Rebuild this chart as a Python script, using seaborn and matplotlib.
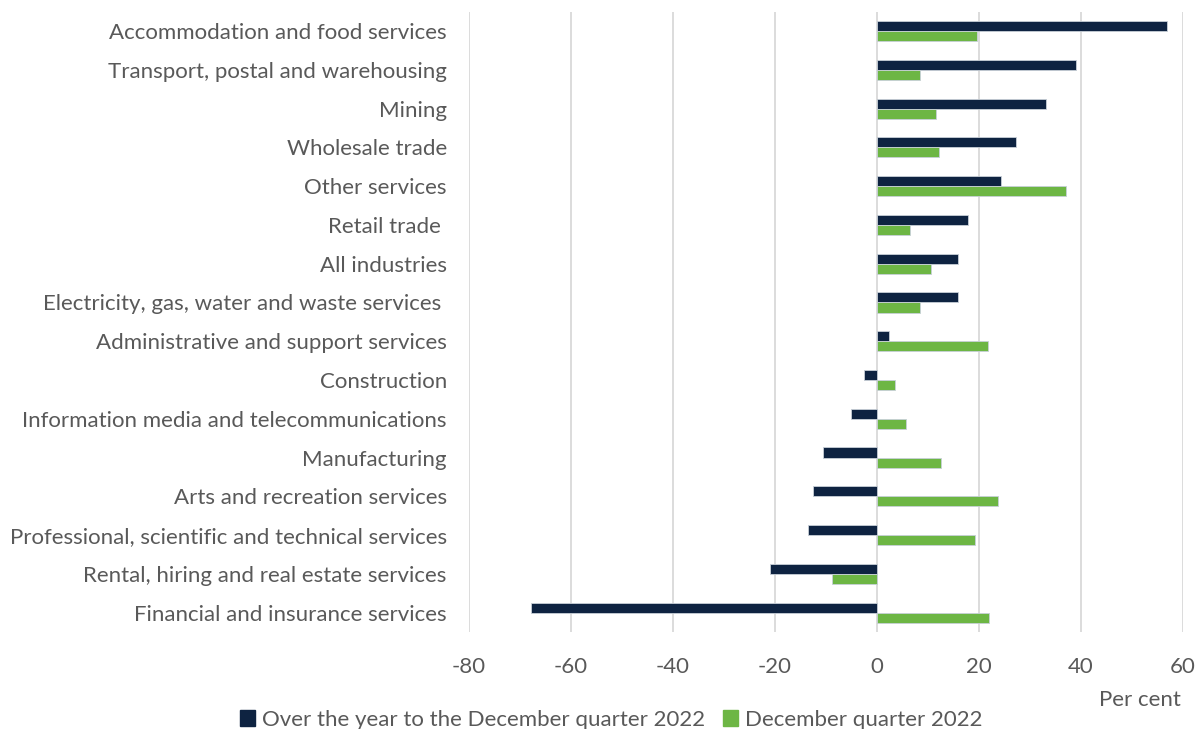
import matplotlib
matplotlib.use("Agg")
import matplotlib.pyplot as plt
import seaborn as sns
import pandas as pd
from matplotlib.patches import Patch

categories = [
    "Accommodation and food services",
    "Transport, postal and warehousing",
    "Mining",
    "Wholesale trade",
    "Other services",
    "Retail trade ",
    "All industries",
    "Electricity, gas, water and waste services ",
    "Administrative and support services",
    "Construction",
    "Information media and telecommunications",
    "Manufacturing",
    "Arts and recreation services",
    "Professional, scientific and technical services",
    "Rental, hiring and real estate services",
    "Financial and insurance services",
]
over_year = [56.9, 39.0, 33.1, 27.3, 24.4, 17.9, 15.9, 15.8, 2.4, -2.5, -5.1, -10.5, -12.6, -13.5, -21.0, -67.8]
dec_quarter = [19.7, 8.4, 11.6, 12.2, 37.1, 6.5, 10.6, 8.4, 21.8, 3.5, 5.6, 12.5, 23.8, 19.3, -8.8, 22.0]
series_names = ["Over the year to the December quarter 2022", "December quarter 2022"]
x_ticks = [-80, -60, -40, -20, 0, 20, 40, 60]

colors = ["#0E2341", "#6DB644"]

sns.set_theme(style="white")
plt.rcParams["font.family"] = ["Lato", "DejaVu Sans"]

df = pd.DataFrame({
    "industry": categories * 2,
    "value": over_year + dec_quarter,
    "series": [series_names[0]] * len(categories) + [series_names[1]] * len(categories),
})

fig = plt.figure(figsize=(11.98, 7.29), dpi=100)
ax = fig.add_axes([0.3915, 0.133, 0.596, 0.851])
sns.barplot(data=df, y="industry", x="value", hue="series", order=categories,
            hue_order=series_names, palette=colors, orient="h", width=0.52,
            dodge=True, ax=ax, legend=False, edgecolor="#c8d0d8", linewidth=0.6,
            saturation=1)

ax.set_xlim(-80, 60)
ax.set_xticks(x_ticks)
ax.set_xticklabels([str(t) for t in x_ticks])
ax.set_xlabel("")
ax.set_ylabel("")
for s in ax.spines.values():
    s.set_visible(False)
ax.grid(axis="x", color="#d9d9d9", linewidth=1.3)
ax.set_axisbelow(True)
ax.tick_params(axis="x", colors="#595959", labelsize=16, length=0, pad=18)
ax.tick_params(axis="y", colors="#595959", labelsize=16, length=0, pad=16)
ax.set_ylim(len(categories) - 0.5, -0.5)

fig.text(0.986, 1 - 700 / 729, "Per cent", ha="right", va="center", fontsize=16, color="#595959")

handles = [Patch(facecolor=c, edgecolor=c) for c in colors]
fig.legend(handles, series_names, loc="center", bbox_to_anchor=(0.51, 0.013), ncol=2,
           frameon=False, fontsize=16, labelcolor="#595959", handlelength=0.7,
           handleheight=0.7, handletextpad=0.3, columnspacing=0.8)

fig.savefig("out.png", dpi=100)
